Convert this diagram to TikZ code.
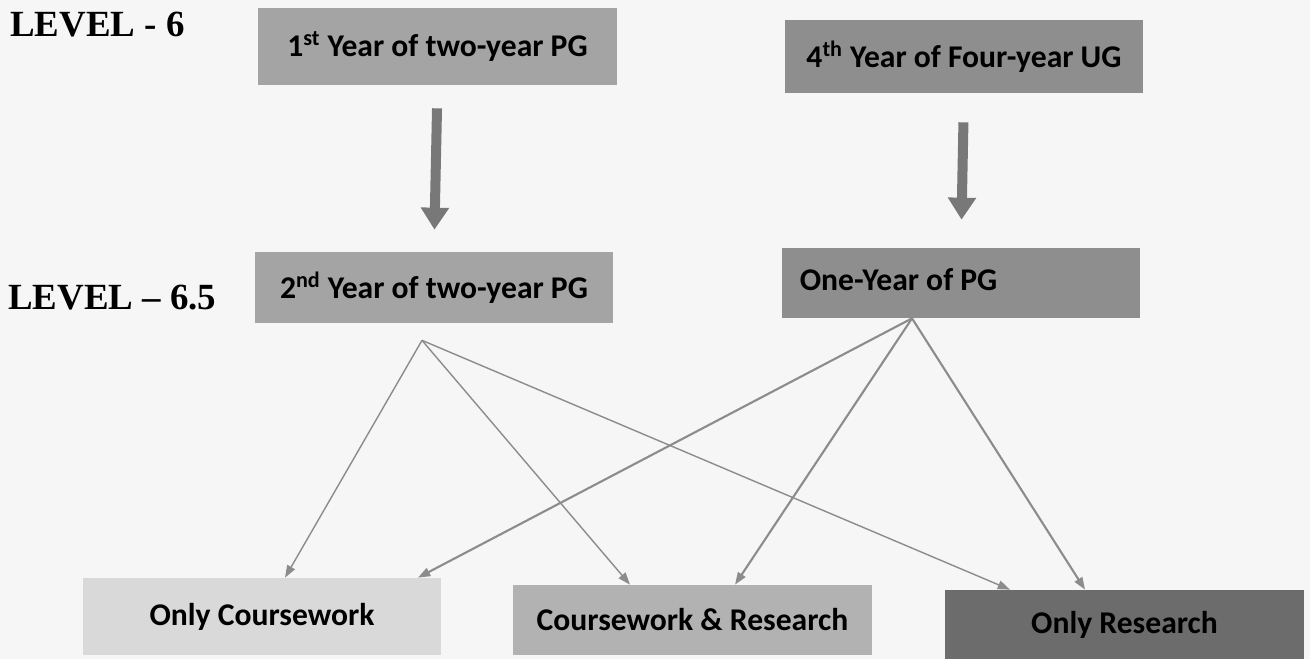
\documentclass[tikz,border=0pt]{standalone}
\usepackage{fontspec}
\setmainfont{Carlito}
\newfontfamily\levelfont[Ligatures=TeX]{Liberation Serif}
\usetikzlibrary{arrows.meta,positioning}
\definecolor{paper}{HTML}{F6F6F6}
\definecolor{boxA}{HTML}{A4A4A4}
\definecolor{boxB}{HTML}{8E8E8E}
\definecolor{boxLight}{HTML}{D9D9D9}
\definecolor{boxMid}{HTML}{B2B2B2}
\definecolor{boxDark}{HTML}{6C6C6C}
\definecolor{linkgray}{HTML}{8C8C8C}
\definecolor{bigarrow}{HTML}{787878}
\begin{document}
\begin{tikzpicture}[
		x=0.02cm, y=-0.02cm,
		yearbox/.style={fill=#1, minimum width=7.17cm, minimum height=1.45cm,
			font=\fontsize{18}{20}\selectfont\bfseries, inner sep=0pt},
		levellabel/.style={anchor=west, inner sep=0pt,
			font=\levelfont\fontsize{21}{24}\selectfont\bfseries},
		thickarrow/.style={line width=0.2cm, draw=bigarrow,
			-{Triangle[width=0.54cm,length=0.44cm]}},
		link/.style={draw=linkgray, line width=#1,
			-{Triangle[width=5pt,length=7pt]}},
		link/.default=0.8pt
		]
		% Background
		\fill[paper] (0,0) rectangle (1310,659);
		\useasboundingbox (0,0) rectangle (1310,659);
		% Level labels
		\node[levellabel] (L6) at (10,25) {LEVEL - 6};
		\node[levellabel] (L65) at (8,298) {LEVEL – 6.5};
		% Level 6
		\node[yearbox=boxA, minimum height=1.54cm] (B1) at (437.5,46.5) {1\textsuperscript{st} Year of two-year PG};
		\node[yearbox=boxB, minimum height=1.46cm] (B2) at (964,56.5) {4\textsuperscript{th} Year of Four-year UG};
		% Level 6.5
		\node[yearbox=boxA, minimum height=1.42cm] (B3) at (434,287.5) {2\textsuperscript{nd} Year of two-year PG};
		\node[yearbox=boxB, minimum height=1.4cm, text width=6.45cm, align=flush left] (B4) at (961,283) {\raisebox{0.12cm}{One-Year of PG}};
		% Outcomes
		\node[yearbox=boxLight, minimum height=1.54cm] (C1) at (262,616.5) {Only Coursework};
		\node[yearbox=boxMid, minimum height=1.4cm] (C2) at (692.5,620) {Coursework \& Research};
		\node[yearbox=boxDark, minimum height=1.38cm] (C3) at (1124.5,624.5) {Only Research};
		% Thick arrows
		\draw[thickarrow, shorten <=0.46cm, shorten >=0.44cm] (B1.south) -- (B3.north);
		\draw[thickarrow, shorten <=0.58cm, shorten >=0.56cm] (B2.south) -- (B4.north);
		% Branches
		\coordinate (B3src) at ([xshift=-0.24cm,yshift=-0.34cm]B3.south);
		\coordinate (B4src) at ([xshift=-0.98cm]B4.south);
		\draw[link] (B3src) -- ([xshift=0.46cm]C1.north);
		\draw[link] (B3src) -- ([xshift=-1.25cm]C2.north);
		\draw[link] (B3src) -- ([xshift=-2.29cm]C3.north);
		\draw[link=1.2pt] (B4src) -- ([xshift=3.12cm]C1.north);
		\draw[link=1.2pt] (B4src) -- ([xshift=0.85cm]C2.north);
		\draw[link=1.2pt] (B4src) -- ([xshift=-0.79cm]C3.north);
	\end{tikzpicture}
\end{document}
